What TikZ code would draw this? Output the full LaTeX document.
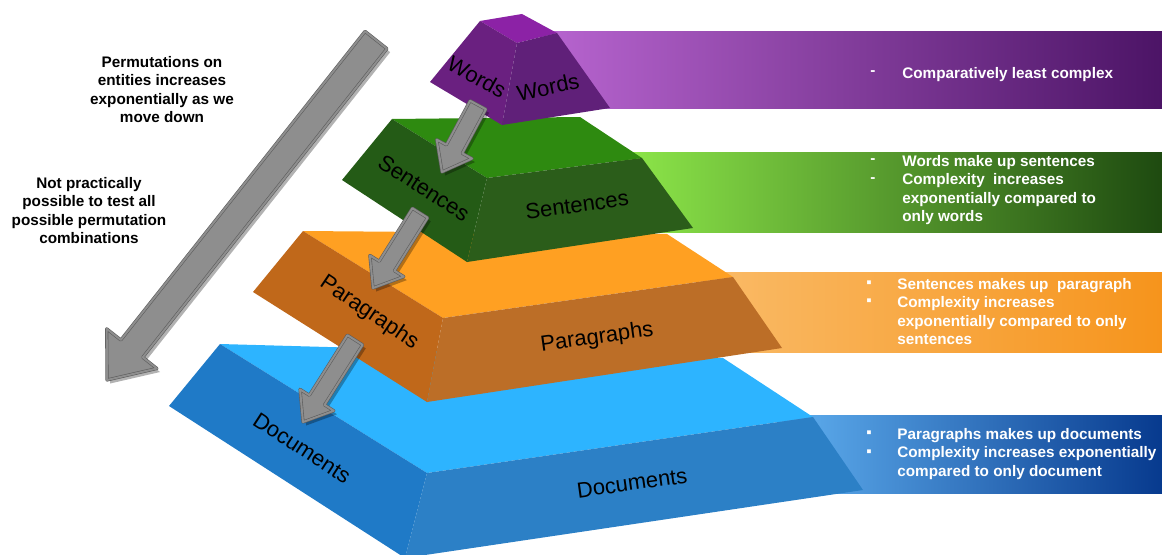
\documentclass[tikz,border=0pt]{standalone}
\usepackage{fontspec}
\setmainfont{Liberation Sans}
\usetikzlibrary{calc}

% slab colours
\definecolor{wordstop}{HTML}{8C22A6}
\definecolor{wordsleft}{HTML}{6A2080}
\definecolor{wordsfront}{HTML}{602079}
\definecolor{senttop}{HTML}{2E8A10}
\definecolor{sentleft}{HTML}{245B16}
\definecolor{sentfront}{HTML}{2B5D1A}
\definecolor{paratop}{HTML}{FFA022}
\definecolor{paraleft}{HTML}{C0681A}
\definecolor{parafront}{HTML}{BC6E27}
\definecolor{doctop}{HTML}{2DB4FF}
\definecolor{docleft}{HTML}{1F7AC7}
\definecolor{docfront}{HTML}{2C80C6}
% banner colours
\definecolor{wordsA}{HTML}{B865D0}
\definecolor{wordsB}{HTML}{4C1466}
\definecolor{sentA}{HTML}{8EE84A}
\definecolor{sentB}{HTML}{1E4A10}
\definecolor{paraA}{HTML}{FABB68}
\definecolor{paraB}{HTML}{F6941C}
\definecolor{docA}{HTML}{60B0F0}
\definecolor{docB}{HTML}{073A8E}
% arrows
\definecolor{arrowgray}{HTML}{8E8E8E}
\definecolor{arrowedge}{HTML}{5E5E5E}

\tikzset{
    facetext/.style = {
        font = \fontsize{12.5}{14}\selectfont,
        inner sep = 0pt
    },
    bannertext/.style = {
        font = \fontsize{8.7}{10.5}\selectfont\bfseries,
        text = white,
        align = left,
        anchor = north west,
        inner sep = 0pt
    },
    bulletmark/.style = {
        font = \fontsize{8.7}{10.5}\selectfont\bfseries,
        text = white,
        inner sep = 0pt
    },
    notetext/.style = {
        font = \fontsize{8.7}{10.5}\selectfont\bfseries,
        align = center,
        anchor = north,
        inner sep = 0pt
    },
    banner/.style 2 args = {
        left color = #1,
        right color = #2
    },
    arrowbody/.style = {
        fill = arrowgray,
        draw = arrowedge,
        line width = 0.35pt,
        double = arrowgray,
        double distance = 1.1pt,
        line join = round
    },
    arrowshadow/.style = {
        fill = black,
        opacity = 0.3,
        transform canvas = {xshift = 1.8pt, yshift = -2pt}
    }
}

% start, tip, shaft half width, head half width, head length
\newcommand{\permarrow}[5]{%
    \coordinate (pa) at (#1);
    \coordinate (pz) at (#2);
    \coordinate (ph) at ($(pz)!#5!(pa)$);
    \coordinate (pa1) at ($(pa)!#3!90:(pz)$);
    \coordinate (pa2) at ($(pa)!#3!-90:(pz)$);
    \coordinate (ph1) at ($(ph)!#3!90:(pz)$);
    \coordinate (ph2) at ($(ph)!#3!-90:(pz)$);
    \coordinate (pw1) at ($(ph)!#4!90:(pz)$);
    \coordinate (pw2) at ($(ph)!#4!-90:(pz)$);
    \path[arrowshadow] (pa1) -- (ph1) -- (pw1) -- (pz) -- (pw2) -- (ph2) -- (pa2) -- cycle;
    \path[arrowbody] (pa1) -- (ph1) -- (pw1) -- (pz) -- (pw2) -- (ph2) -- (pa2) -- cycle;
}

\begin{document}
\begin{tikzpicture}[x = 0.02cm, y = -0.02cm]
    \clip (0,0) rectangle (1162,554);

    % banners
    \fill[banner = {wordsA}{wordsB}] (540,32) rectangle (1162,108);
    \fill[banner = {sentA}{sentB}] (620,152) rectangle (1162,232);
    \fill[banner = {paraA}{paraB}] (700,272) rectangle (1162,352);
    \fill[banner = {docA}{docB}] (780,415) rectangle (1162,493);

    % documents slab
    \fill[doctop] (220,344) -- (723,358) -- (813,417) -- (427,473) -- cycle;
    \fill[docleft] (220,344) -- (427,473) -- (405,558) -- (169,406) -- cycle;
    \fill[docfront] (427,473) -- (813,417) -- (863,490) -- (405,558) -- cycle;

    % paragraphs slab
    \fill[paratop] (303,231) -- (667,234) -- (733,277) -- (443,318) -- cycle;
    \fill[paraleft] (303,231) -- (443,318) -- (427,402) -- (253,292) -- cycle;
    \fill[parafront] (443,318) -- (733,277) -- (782,348) -- (427,402) -- cycle;

    % sentences slab
    \fill[senttop] (392,119) -- (580,117) -- (642,158) -- (487,178) -- cycle;
    \fill[sentleft] (392,119) -- (487,178) -- (467,262) -- (342,180) -- cycle;
    \fill[sentfront] (487,178) -- (642,158) -- (693,228) -- (467,262) -- cycle;

    % words slab
    \fill[wordstop] (480,21) -- (522,14) -- (557,33) -- (517,43) -- cycle;
    \fill[wordsleft] (480,21) -- (517,43) -- (502,125) -- (430,82) -- cycle;
    \fill[wordsfront] (517,43) -- (557,33) -- (610,108) -- (502,125) -- cycle;

    % labels on the faces
    \node[facetext, rotate = -29] (wordsL) at (477,77) {Words};
    \node[facetext, rotate = 12] (wordsF) at (548,87) {Words};
    \node[facetext, rotate = -33] (sentL) at (424,188) {Sentences};
    \node[facetext, rotate = 8] (sentF) at (577,205) {Sentences};
    \node[facetext, rotate = -34] (paraL) at (369,313) {Paragraphs};
    \node[facetext, rotate = 8] (paraF) at (597,338) {Paragraphs};
    \node[facetext, rotate = -33] (docL) at (302,448) {Documents};
    \node[facetext, rotate = 8] (docF) at (632,483) {Documents};

    % arrows
    \permarrow{478,105}{442,172}{0.18cm}{0.4cm}{0.52cm}
    \permarrow{420,213}{373,288}{0.18cm}{0.4cm}{0.52cm}
    \permarrow{355,340}{303,422}{0.18cm}{0.4cm}{0.52cm}
    \permarrow{376,40}{107,380}{0.28cm}{0.64cm}{0.8cm}

    % notes
    \node[notetext] (permnote) at (162,56)
        {Permutations on\\entities increases\\exponentially as we\\move down};
    \node[notetext] (testnote) at (89,177)
        {Not practically\\possible to test all\\possible permutation\\combinations};

    % banner texts
    \node[bulletmark] (wordsb1) at (873,73) {-};
    \node[bannertext] (wordsinfo) at (902,67) {Comparatively least complex};

    \node[bulletmark] (sentb1) at (873,161) {-};
    \node[bulletmark] (sentb2) at (873,180) {-};
    \node[bannertext] (sentinfo) at (902,155)
        {Words make up sentences\\Complexity\ \ increases\\exponentially compared to\\only words};

    \node[bulletmark] (parab1) at (869,284) {▪};
    \node[bulletmark] (parab2) at (869,302) {▪};
    \node[bannertext] (parainfo) at (897,278)
        {Sentences makes up\ \ paragraph\\Complexity increases\\exponentially compared to only\\sentences};

    \node[bulletmark] (docb1) at (869,434) {▪};
    \node[bulletmark] (docb2) at (869,453) {▪};
    \node[bannertext] (docinfo) at (897,428)
        {Paragraphs makes up documents\\Complexity increases exponentially\\compared to only document};
\end{tikzpicture}
\end{document}
